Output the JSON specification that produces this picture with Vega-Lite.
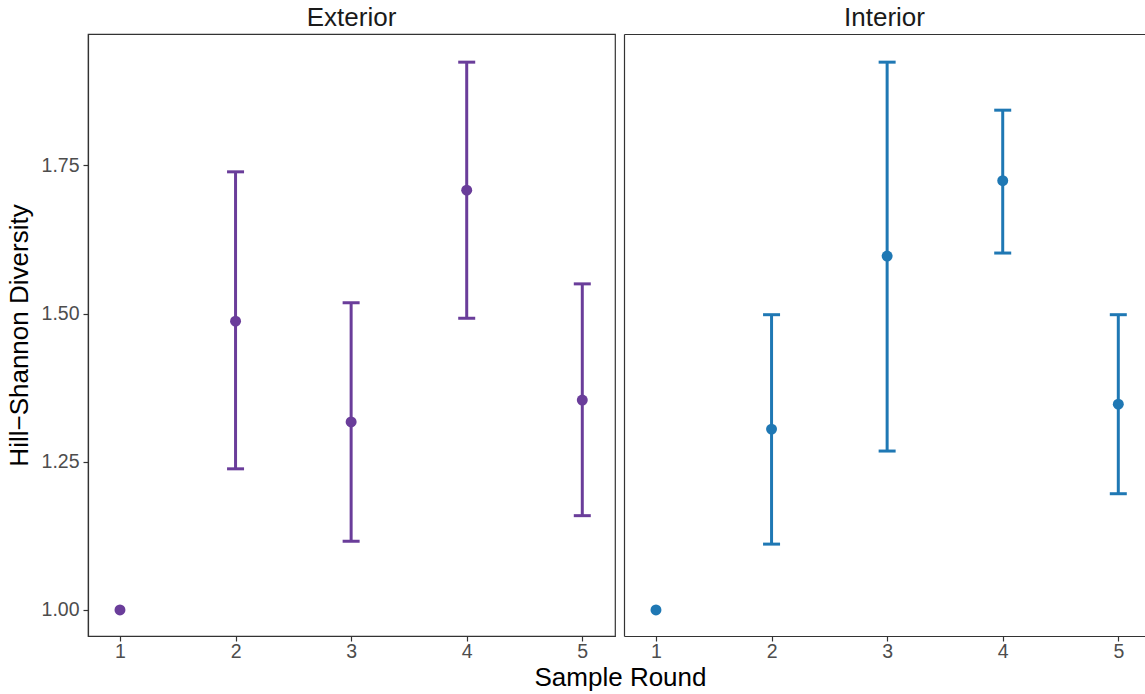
{
  "$schema": "https://vega.github.io/schema/vega-lite/v6.json",
  "background": "white",
  "padding": {"left": 5, "top": 4, "right": 0, "bottom": 0},
  "autosize": {"type": "pad"},
  "config": {
    "font": "Liberation Sans",
    "view": {"stroke": "#333333", "strokeWidth": 1.2},
    "axis": {"grid": false, "domainColor": "#333333", "domainWidth": 1.2, "tickColor": "#333333", "tickWidth": 1.2, "tickSize": 5, "labelFontSize": 19.5, "labelColor": "#4d4d4d", "titleFontSize": 26, "titleColor": "#000000", "titleFontWeight": "normal", "labelFont": "Liberation Sans", "titleFont": "Liberation Sans"},
    "title": {"fontSize": 26, "fontWeight": "normal", "color": "#1a1a1a", "font": "Liberation Sans"}
  },
  "data": {"values": [
    {"panel": "Exterior", "round": 1, "mean": 1.0, "low": null, "high": null},
    {"panel": "Exterior", "round": 2, "mean": 1.487, "low": 1.238, "high": 1.739},
    {"panel": "Exterior", "round": 3, "mean": 1.317, "low": 1.116, "high": 1.518},
    {"panel": "Exterior", "round": 4, "mean": 1.708, "low": 1.492, "high": 1.924},
    {"panel": "Exterior", "round": 5, "mean": 1.354, "low": 1.159, "high": 1.550},
    {"panel": "Interior", "round": 1, "mean": 1.0, "low": null, "high": null},
    {"panel": "Interior", "round": 2, "mean": 1.305, "low": 1.111, "high": 1.498},
    {"panel": "Interior", "round": 3, "mean": 1.597, "low": 1.268, "high": 1.924},
    {"panel": "Interior", "round": 4, "mean": 1.724, "low": 1.602, "high": 1.843},
    {"panel": "Interior", "round": 5, "mean": 1.347, "low": 1.196, "high": 1.498}
  ]},
  "spacing": 9,
  "bounds": "flush",
  "hconcat": [
    {
      "width": 527, "height": 602,
      "title": {"text": "Exterior", "offset": 3},
      "transform": [{"filter": "datum.panel === 'Exterior'"}],
      "resolve": {"axis": {"x": "independent", "y": "independent"}},
      "layer": [
        {"mark": {"type": "rule", "strokeWidth": 3, "color": "#6a3d9a", "opacity": 1},
         "encoding": {
           "x": {"field": "round", "type": "quantitative", "scale": {"domain": [0.7234, 5.283], "nice": false, "zero": false},
                 "axis": {"values": [1, 2, 3, 4, 5], "format": "d", "title": "Sample Round", "titleX": 532, "titleY": 49, "titleBaseline": "alphabetic", "labelPadding": 1, "labelFontSize": 19.5, "titleFontSize": 26}},
           "y": {"field": "low", "type": "quantitative", "scale": {"domain": [0.956, 1.9715], "nice": false, "zero": false},
                 "axis": {"values": [1, 1.25, 1.5, 1.75], "format": ".2f", "title": "Hill−Shannon Diversity", "titlePadding": 9, "labelPadding": 4, "labelFontSize": 19.5, "titleFontSize": 26}},
           "y2": {"field": "high"}
         }},
        {"mark": {"type": "tick", "orient": "horizontal", "size": 17, "thickness": 3, "color": "#6a3d9a", "opacity": 1},
         "encoding": {
           "x": {"field": "round", "type": "quantitative", "scale": {"domain": [0.7234, 5.283], "nice": false, "zero": false}, "axis": null},
           "y": {"field": "high", "type": "quantitative", "scale": {"domain": [0.956, 1.9715], "nice": false, "zero": false}, "axis": null}
         }},
        {"mark": {"type": "tick", "orient": "horizontal", "size": 17, "thickness": 3, "color": "#6a3d9a", "opacity": 1},
         "encoding": {
           "x": {"field": "round", "type": "quantitative", "scale": {"domain": [0.7234, 5.283], "nice": false, "zero": false}, "axis": null},
           "y": {"field": "low", "type": "quantitative", "scale": {"domain": [0.956, 1.9715], "nice": false, "zero": false}, "axis": null}
         }},
        {"mark": {"type": "point", "filled": true, "size": 120, "color": "#6a3d9a", "opacity": 1},
         "encoding": {
           "x": {"field": "round", "type": "quantitative", "scale": {"domain": [0.7234, 5.283], "nice": false, "zero": false}, "axis": null},
           "y": {"field": "mean", "type": "quantitative", "scale": {"domain": [0.956, 1.9715], "nice": false, "zero": false}, "axis": null}
         }}
      ]
    },
    {
      "width": 521, "height": 602,
      "title": {"text": "Interior", "offset": 3},
      "view": {"stroke": null},
      "transform": [{"filter": "datum.panel === 'Interior'"}],
      "resolve": {"axis": {"x": "independent", "y": "independent"}},
      "layer": [
        {"mark": {"type": "rule", "strokeWidth": 3, "color": "#1f78b4", "opacity": 1},
         "encoding": {
           "x": {"field": "round", "type": "quantitative", "scale": {"domain": [0.7234, 5.231], "nice": false, "zero": false},
                 "axis": {"orient": "bottom", "values": [1, 2, 3, 4, 5], "format": "d", "title": null, "labelPadding": 1, "labelFontSize": 19.5}},
           "y": {"field": "low", "type": "quantitative", "scale": {"domain": [0.956, 1.9715], "nice": false, "zero": false},
                 "axis": {"labels": false, "ticks": false, "title": null, "domain": true}},
           "y2": {"field": "high"}
         }},
        {"mark": {"type": "tick", "orient": "horizontal", "size": 17, "thickness": 3, "color": "#1f78b4", "opacity": 1},
         "encoding": {
           "x": {"field": "round", "type": "quantitative", "scale": {"domain": [0.7234, 5.231], "nice": false, "zero": false},
                 "axis": {"orient": "top", "labels": false, "ticks": false, "title": null, "domain": true}},
           "y": {"field": "high", "type": "quantitative", "scale": {"domain": [0.956, 1.9715], "nice": false, "zero": false}, "axis": null}
         }},
        {"mark": {"type": "tick", "orient": "horizontal", "size": 17, "thickness": 3, "color": "#1f78b4", "opacity": 1},
         "encoding": {
           "x": {"field": "round", "type": "quantitative", "scale": {"domain": [0.7234, 5.231], "nice": false, "zero": false}, "axis": null},
           "y": {"field": "low", "type": "quantitative", "scale": {"domain": [0.956, 1.9715], "nice": false, "zero": false}, "axis": null}
         }},
        {"mark": {"type": "point", "filled": true, "size": 120, "color": "#1f78b4", "opacity": 1},
         "encoding": {
           "x": {"field": "round", "type": "quantitative", "scale": {"domain": [0.7234, 5.231], "nice": false, "zero": false}, "axis": null},
           "y": {"field": "mean", "type": "quantitative", "scale": {"domain": [0.956, 1.9715], "nice": false, "zero": false}, "axis": null}
         }}
      ]
    }
  ]
}
